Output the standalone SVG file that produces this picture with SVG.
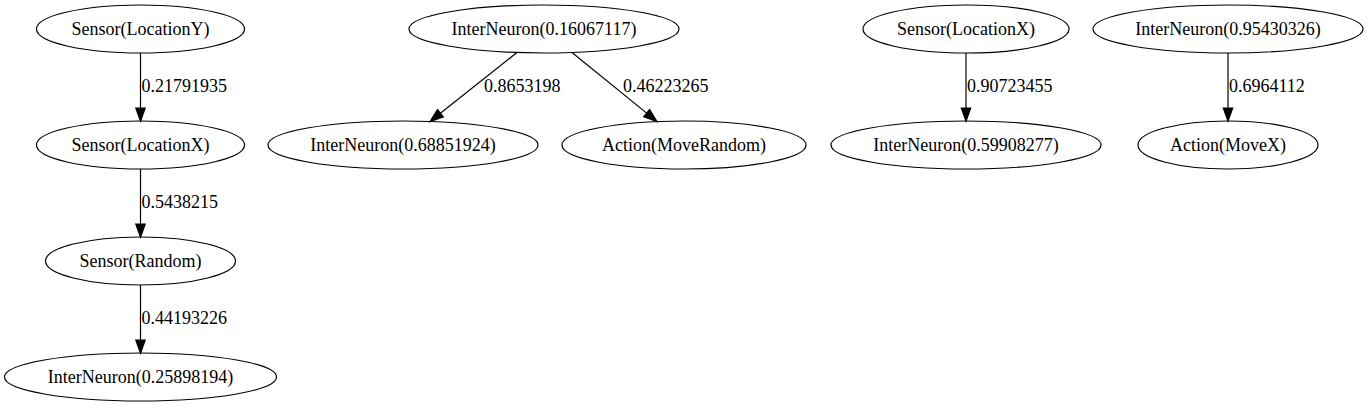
<svg xmlns="http://www.w3.org/2000/svg" width="1369" height="407" viewBox="0 0 1369 407">
<style>
.n ellipse{fill:none;stroke:#000;stroke-width:1.2}
.n text{font-family:"Liberation Serif","Times New Roman",serif;font-size:18px;text-anchor:middle;fill:#000}
.e line{stroke:#000;stroke-width:1.2}
.e polygon{fill:#000;stroke:#000;stroke-width:1.2}
.e text{font-family:"Liberation Serif","Times New Roman",serif;font-size:18px;fill:#000}
</style>
<rect width="1369" height="407" fill="#fff"/>
<g id="edges" class="e">
<line x1="140.5" y1="53" x2="140.5" y2="108"/>
<polygon points="135.8,108 145.2,108 140.5,121.3"/>
<text x="141.5" y="92">0.21791935</text>
<line x1="140.5" y1="169" x2="140.5" y2="224"/>
<polygon points="135.8,224 145.2,224 140.5,237.3"/>
<text x="141.5" y="208">0.5438215</text>
<line x1="140.5" y1="285" x2="140.5" y2="340"/>
<polygon points="135.8,340 145.2,340 140.5,353.3"/>
<text x="141.5" y="324">0.44193226</text>
<line x1="517" y1="52.5" x2="440.4" y2="113.2"/>
<polygon points="443.3,116.9 437.5,109.6 430,121.5"/>
<text x="484" y="92">0.8653198</text>
<line x1="572" y1="52.5" x2="646.7" y2="113.1"/>
<polygon points="643.7,116.7 649.6,109.5 657,121.5"/>
<text x="623" y="92">0.46223265</text>
<line x1="966" y1="53" x2="966" y2="108"/>
<polygon points="961.3,108 970.7,108 966,121.3"/>
<text x="967" y="92">0.90723455</text>
<line x1="1228" y1="53" x2="1228" y2="108"/>
<polygon points="1223.3,108 1232.7,108 1228,121.3"/>
<text x="1229" y="92">0.6964112</text>
</g>
<g id="n1" class="n"><ellipse cx="140.5" cy="29" rx="104" ry="24"/><text x="140.5" y="34.6">Sensor(LocationY)</text></g>
<g id="n2" class="n"><ellipse cx="140.5" cy="145" rx="104" ry="24"/><text x="140.5" y="150.6">Sensor(LocationX)</text></g>
<g id="n3" class="n"><ellipse cx="140.5" cy="261" rx="95" ry="24"/><text x="140.5" y="266.6">Sensor(Random)</text></g>
<g id="n4" class="n"><ellipse cx="140.5" cy="377" rx="136" ry="24"/><text x="140.5" y="382.6">InterNeuron(0.25898194)</text></g>
<g id="n5" class="n"><ellipse cx="544" cy="29" rx="135" ry="24"/><text x="544" y="34.6">InterNeuron(0.16067117)</text></g>
<g id="n6" class="n"><ellipse cx="403" cy="145" rx="135" ry="24"/><text x="403" y="150.6">InterNeuron(0.68851924)</text></g>
<g id="n7" class="n"><ellipse cx="684" cy="145" rx="122" ry="24"/><text x="684" y="150.6">Action(MoveRandom)</text></g>
<g id="n8" class="n"><ellipse cx="966" cy="29" rx="103" ry="24"/><text x="966" y="34.6">Sensor(LocationX)</text></g>
<g id="n9" class="n"><ellipse cx="966" cy="145" rx="135" ry="24"/><text x="966" y="150.6">InterNeuron(0.59908277)</text></g>
<g id="n10" class="n"><ellipse cx="1228" cy="29" rx="135" ry="24"/><text x="1228" y="34.6">InterNeuron(0.95430326)</text></g>
<g id="n11" class="n"><ellipse cx="1228" cy="145" rx="90" ry="24"/><text x="1228" y="150.6">Action(MoveX)</text></g>
</svg>
